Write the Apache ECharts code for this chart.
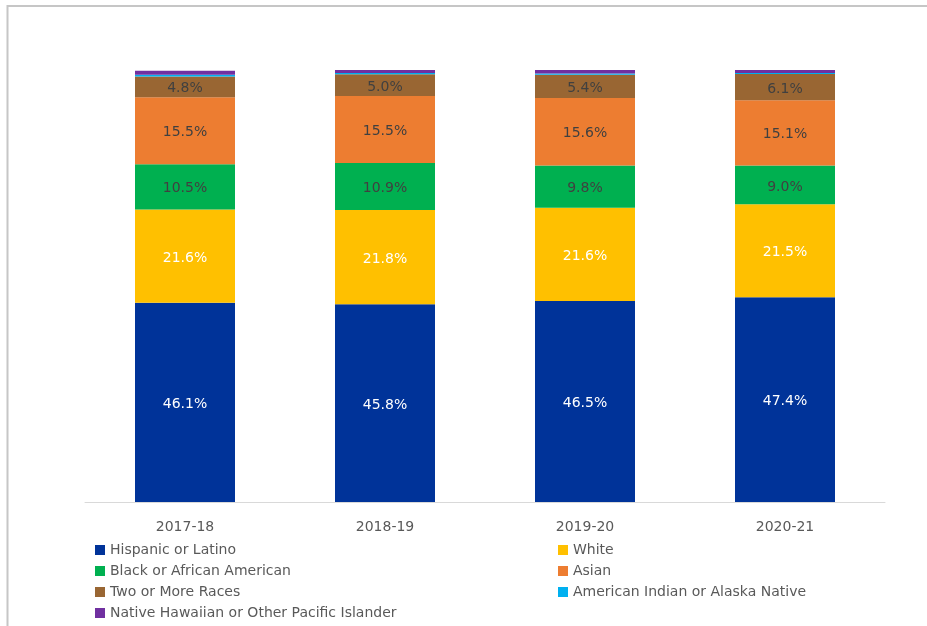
<!DOCTYPE html>
<html>
<head>
<meta charset="utf-8">
<script src="https://cdn.jsdelivr.net/npm/echarts@6/dist/echarts.min.js"></script>
<style>
  html, body { margin: 0; padding: 0; background: #fff; }
  #chart { width: 927px; height: 626px; }
</style>
</head>
<body>
<div id="chart"></div>
<script>
// School years shown along the x axis
const years = ['2017-18', '2018-19', '2019-20', '2020-21'];

// Share of enrollment (%) by race/ethnicity for each year
const hispanic = [46.1, 45.8, 46.5, 47.4];
const white    = [21.6, 21.8, 21.6, 21.5];
const black    = [10.5, 10.9, 9.8, 9.0];
const asian    = [15.5, 15.5, 15.6, 15.1];
const twoMore  = [4.8, 5.0, 5.4, 6.1];
const aian     = [0.4, 0.3, 0.3, 0.2];
const nhpi     = [0.9, 0.7, 0.8, 0.7];

const FONT = '"DejaVu Sans", "Liberation Sans", Arial, sans-serif';
const TEXT = '#595959';

function seg(name, data, color, labelColor) {
  return {
    name: name,
    type: 'bar',
    stack: 'total',
    barWidth: '50%',
    data: data,
    itemStyle: { color: color },
    label: {
      show: !!labelColor,
      position: 'inside',
      offset: [0, 2],
      color: labelColor || TEXT,
      fontFamily: FONT,
      fontSize: 14,
      formatter: p => p.value.toFixed(1) + '%'
    },
    emphasis: { disabled: true }
  };
}

const legendText = { color: TEXT, fontFamily: FONT, fontSize: 14, lineHeight: 16 };

const chart = echarts.init(document.getElementById('chart'), null, { renderer: 'canvas' });
chart.setOption({
  backgroundColor: '#ffffff',
  animation: false,
  graphic: [{
    type: 'rect',
    shape: { x: 7.5, y: 6, width: 1000, height: 1000 },
    style: { fill: 'none', stroke: '#c6c6c6', lineWidth: 2 },
    silent: true
  }],
  grid: { left: 85, right: 42, top: 70, bottom: 124 },
  xAxis: {
    type: 'category',
    data: years,
    axisLine: { lineStyle: { color: '#d9d9d9', width: 1 } },
    axisTick: { show: false },
    axisLabel: { color: TEXT, fontFamily: FONT, fontSize: 14, margin: 18 }
  },
  yAxis: {
    type: 'value',
    min: 0,
    max: 100,
    show: false
  },
  legend: [
    {
      orient: 'vertical',
      left: 90,
      top: 537,
      itemWidth: 10,
      itemHeight: 10,
      itemGap: 5,
      icon: 'rect',
      textStyle: legendText,
      data: ['Hispanic or Latino', 'Black or African American', 'Two or More Races', 'Native Hawaiian or Other Pacific Islander']
    },
    {
      orient: 'vertical',
      left: 553,
      top: 537,
      itemWidth: 10,
      itemHeight: 10,
      itemGap: 5,
      icon: 'rect',
      textStyle: legendText,
      data: ['White', 'Asian', 'American Indian or Alaska Native']
    }
  ],
  series: [
    seg('Hispanic or Latino', hispanic, '#003399', '#ffffff'),
    seg('White', white, '#ffc000', '#ffffff'),
    seg('Black or African American', black, '#00b050', '#404040'),
    seg('Asian', asian, '#ed7d31', '#404040'),
    seg('Two or More Races', twoMore, '#996633', '#404040'),
    seg('American Indian or Alaska Native', aian, '#00b0f0', null),
    seg('Native Hawaiian or Other Pacific Islander', nhpi, '#7030a0', null)
  ]
});
</script>
</body>
</html>
